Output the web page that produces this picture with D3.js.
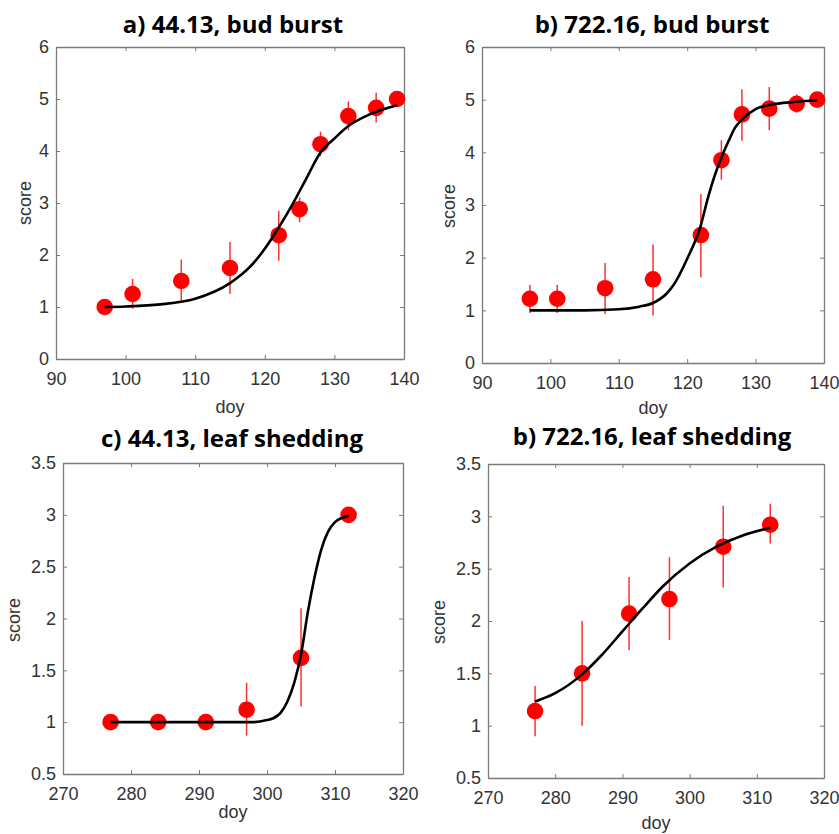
<!DOCTYPE html>
<html>
<head>
<meta charset="utf-8">
<script src="https://cdn.jsdelivr.net/npm/d3@7"></script>
<style>
  html, body { margin: 0; padding: 0; background: #fff; }
  svg { display: block; }
</style>
</head>
<body>
<svg id="chart" width="839" height="834"></svg>
<script>
// ---------- DATA ----------
const doyBud = [97, 101, 108, 115, 122, 125, 128, 132, 136, 139];
const doyLeaf = [277, 284, 291, 297, 305, 312];

// a) 44.13, bud burst
const scoreA = [1.00, 1.25, 1.50, 1.75, 2.38, 2.88, 4.13, 4.67, 4.83, 5.00];
const lowA   = [1.00, 0.97, 1.10, 1.25, 1.89, 2.63, 3.90, 4.40, 4.55, 5.00];
const highA  = [1.00, 1.54, 1.91, 2.25, 2.85, 3.11, 4.37, 4.95, 5.12, 5.00];
const fitDoyA   = [97, 100, 105, 110, 115, 118, 120, 122, 124, 126, 128, 130, 132, 135, 139];
const fitScoreA = [1.00, 1.01, 1.05, 1.16, 1.46, 1.79, 2.12, 2.53, 2.98, 3.48, 3.97, 4.24, 4.48, 4.70, 4.88];

// b) 722.16, bud burst
const scoreB = [1.22, 1.22, 1.42, 1.59, 2.43, 3.85, 4.72, 4.83, 4.92, 5.00];
const lowB   = [0.95, 0.95, 0.93, 0.90, 1.63, 3.48, 4.22, 4.42, 4.75, 5.00];
const highB  = [1.48, 1.48, 1.90, 2.25, 3.21, 4.23, 5.20, 5.24, 5.10, 5.00];
const fitDoyB   = [97, 105, 110, 113, 115, 117, 118, 120, 122, 123, 124, 125, 126, 127, 128, 130, 132, 136, 139];
const fitScoreB = [1.00, 1.00, 1.02, 1.07, 1.14, 1.32, 1.48, 1.98, 2.62, 3.12, 3.55, 3.90, 4.20, 4.47, 4.62, 4.82, 4.90, 4.96, 4.99];

// c) 44.13, leaf shedding
const scoreC = [1.00, 1.00, 1.00, 1.12, 1.62, 3.00];
const lowC   = [1.00, 1.00, 1.00, 0.87, 1.15, 3.00];
const highC  = [1.00, 1.00, 1.00, 1.38, 2.10, 3.00];
const fitDoyC   = [277, 285, 290, 295, 298, 300, 301, 302, 303, 304, 305, 306, 307, 308, 309, 310, 311, 312];
const fitScoreC = [1.00, 1.00, 1.00, 1.00, 1.00, 1.02, 1.04, 1.09, 1.20, 1.38, 1.65, 2.06, 2.40, 2.67, 2.84, 2.93, 2.97, 2.99];

// d) 722.16, leaf shedding
const scoreD = [1.14, 1.50, 2.07, 2.21, 2.71, 2.92];
const lowD   = [0.90, 1.00, 1.72, 1.82, 2.32, 2.74];
const highD  = [1.38, 2.00, 2.42, 2.61, 3.10, 3.12];
const fitDoyD   = [277, 280, 284, 287, 290, 293, 296, 300, 304, 308, 312];
const fitScoreD = [1.23, 1.31, 1.49, 1.68, 1.90, 2.12, 2.33, 2.55, 2.71, 2.82, 2.89];

// tick labels
const budXTicks = [90, 100, 110, 120, 130, 140];
const budYTicks = [0, 1, 2, 3, 4, 5, 6];
const leafXTicks = [270, 280, 290, 300, 310, 320];
const leafYTicks = [0.5, 1, 1.5, 2, 2.5, 3, 3.5];

const titles = ["a) 44.13, bud burst", "b) 722.16, bud burst", "c) 44.13, leaf shedding", "b) 722.16, leaf shedding"];
const xLabel = "doy";
const yLabel = "score";

// ---------- LAYOUT ----------
const panels = [
  { title: titles[0], box: {l: 56, r: 404, t: 47, b: 359}, xd: [90, 140], yd: [0, 6], xt: budXTicks, yt: budYTicks,
    x: doyBud, y: scoreA, lo: lowA, hi: highA, fx: fitDoyA, fy: fitScoreA,
    titleXY: [233, 33], xlabY: 413, ylabXY: [25, 203] },
  { title: titles[1], box: {l: 482, r: 824, t: 47, b: 363}, xd: [90, 140], yd: [0, 6], xt: budXTicks, yt: budYTicks,
    x: doyBud, y: scoreB, lo: lowB, hi: highB, fx: fitDoyB, fy: fitScoreB,
    titleXY: [652, 33], xlabY: 414, ylabXY: [449, 206] },
  { title: titles[2], box: {l: 63, r: 403, t: 463, b: 774}, xd: [270, 320], yd: [0.5, 3.5], xt: leafXTicks, yt: leafYTicks,
    x: doyLeaf, y: scoreC, lo: lowC, hi: highC, fx: fitDoyC, fy: fitScoreC,
    titleXY: [232, 447], xlabY: 818, ylabXY: [14, 620] },
  { title: titles[3], box: {l: 488, r: 824, t: 464, b: 778}, xd: [270, 320], yd: [0.5, 3.5], xt: leafXTicks, yt: leafYTicks,
    x: doyLeaf, y: scoreD, lo: lowD, hi: highD, fx: fitDoyD, fy: fitScoreD,
    titleXY: [652, 445], xlabY: 829, ylabXY: [439, 622] }
];

const svg = d3.select("#chart");
const tickFont = "'Liberation Sans', Arial, sans-serif";
const axisColor = "#7a7a7a";
const textColor = "#333";

panels.forEach(p => {
  const b = p.box;
  const xs = d3.scaleLinear().domain(p.xd).range([b.l, b.r]);
  const ys = d3.scaleLinear().domain(p.yd).range([b.b, b.t]);
  const g = svg.append("g");

  // axes (ticks inward on all four sides)
  const fmt = d => String(d);
  const axB = d3.axisBottom(xs).tickValues(p.xt).tickFormat(fmt).tickSizeInner(-4).tickSizeOuter(0).tickPadding(13);
  const axT = d3.axisTop(xs).tickValues(p.xt).tickFormat("").tickSizeInner(-4).tickSizeOuter(0);
  const axL = d3.axisLeft(ys).tickValues(p.yt).tickFormat(fmt).tickSizeInner(-4).tickSizeOuter(0).tickPadding(7);
  const axR = d3.axisRight(ys).tickValues(p.yt).tickFormat("").tickSizeInner(-4).tickSizeOuter(0);

  const styleAxis = sel => {
    sel.select(".domain").attr("stroke", axisColor).attr("stroke-width", 1.3);
    sel.selectAll(".tick line").attr("stroke", axisColor).attr("stroke-width", 1);
    sel.selectAll(".tick text").attr("fill", textColor).style("font-family", tickFont).style("font-size", "18px");
  };
  g.append("g").attr("transform", `translate(0,${b.b})`).call(axB).call(styleAxis);
  g.append("g").attr("transform", `translate(0,${b.t})`).call(axT).call(styleAxis);
  g.append("g").attr("transform", `translate(${b.l},0)`).call(axL).call(styleAxis);
  g.append("g").attr("transform", `translate(${b.r},0)`).call(axR).call(styleAxis);

  // error bars
  g.append("g").selectAll("line").data(p.x.map((d, i) => i)).join("line")
    .attr("x1", i => xs(p.x[i])).attr("x2", i => xs(p.x[i]))
    .attr("y1", i => ys(p.lo[i])).attr("y2", i => ys(p.hi[i]))
    .attr("stroke", "#ff3030").attr("stroke-width", 1.5);

  // points
  g.append("g").selectAll("circle").data(p.x.map((d, i) => i)).join("circle")
    .attr("cx", i => xs(p.x[i])).attr("cy", i => ys(p.y[i])).attr("r", 8.3)
    .attr("fill", "#ff0000");

  // fitted curve
  const line = d3.line().x(i => xs(p.fx[i])).y(i => ys(p.fy[i])).curve(d3.curveMonotoneX);
  g.append("path").attr("d", line(p.fx.map((d, i) => i)))
    .attr("fill", "none").attr("stroke", "#000").attr("stroke-width", 2.6);

  // title
  g.append("text").attr("x", p.titleXY[0]).attr("y", p.titleXY[1]).attr("text-anchor", "middle")
    .style("font-family", "'Open Sans', Lato, sans-serif").style("font-weight", "bold").style("font-size", "24px")
    .attr("fill", "#000").text(p.title);

  // axis labels
  g.append("text").attr("x", (b.l + b.r) / 2).attr("y", p.xlabY).attr("text-anchor", "middle")
    .style("font-family", tickFont).style("font-size", "18px").attr("fill", textColor).text(xLabel);
  g.append("text").attr("transform", `translate(${p.ylabXY[0]},${p.ylabXY[1]}) rotate(-90)`)
    .attr("text-anchor", "middle").attr("dy", "0.35em")
    .style("font-family", tickFont).style("font-size", "18px").attr("fill", textColor).text(yLabel);
});
</script>
</body>
</html>
